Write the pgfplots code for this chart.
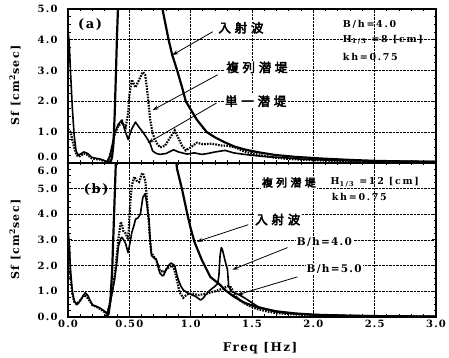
\documentclass[border=0pt]{standalone}
\usepackage{pgfplots}
\pgfplotsset{compat=1.18}
\usepackage{fontspec}
\usetikzlibrary{arrows.meta}
\setmainfont{DejaVu Serif}
\newfontfamily\lbl{DejaVu Serif}[LetterSpace=12]
\newfontfamily\lblw{DejaVu Serif}[LetterSpace=18]
\newfontfamily\cjk{Noto Sans CJK JP}[LetterSpace=30, AutoFakeBold=3.5]
\tikzset{
 arr/.style={-{Stealth[length=6pt,width=4pt]}, line width=0.8pt},
 cj/.style={font=\cjk\bfseries\fontsize{12.5}{14}\selectfont, fill=white, inner sep=1pt},
 cjs/.style={font=\cjk\bfseries\fontsize{11}{13}\selectfont, fill=white, inner sep=1pt},
 tx/.style={font=\lblw\bfseries\fontsize{9.5}{11}\selectfont, anchor=west, inner sep=0pt},
 bh/.style={font=\lbl\bfseries\fontsize{10.5}{12}\selectfont, fill=white, inner sep=1pt},
}
\begin{document}
\begin{tikzpicture}
\path[use as bounding box] (0,0) rectangle (449pt,-358pt);
\pgfplotsset{
 myax/.style={
  scale only axis, width=368pt, anchor=north west,
  xmin=0, xmax=3, xtick={0,0.5,1,1.5,2,2.5,3}, minor x tick num=4,
  minor y tick num=3,
  tick align=inside, xtick pos=both, ytick pos=both,
  major tick length=4pt, minor tick length=2.5pt,
  every tick/.style={black, line width=0.9pt},
  axis line style={line width=1.6pt},
  grid=major, major grid style={densely dotted, black, line width=0.6pt},
  ticklabel style={font=\lbl\bfseries\fontsize{10}{12}\selectfont},
  yticklabel style={xshift=-7pt},
  clip mode=individual,
  ylabel={Sf [cm\textsuperscript{2}sec]},
  ylabel style={at={(axis description cs:-0.144,0.5)}, anchor=center, font=\lbl\bfseries\fontsize{11}{13}\selectfont},
 },
 inc/.style={black, line width=2.2pt, line join=round},
 sol/.style={black, line width=1.6pt, line join=round},
 dot/.style={black, line width=2.2pt, dash pattern=on 1.6pt off 1.2pt},
}
% ---------- top panel ----------
\begin{axis}[myax, at={(68pt,-9pt)}, height=153.7pt,
  ymin=0, ymax=5, ytick={0,1,2,3,4,5},
  yticklabels={,1.0,2.0,3.0,4.0,5.0}, xticklabels={}]
\addplot[inc] coordinates {(0.30,0.02)(0.33,0.03)(0.35,0.05)(0.36,0.2)(0.37,0.6)(0.38,1.5)(0.39,2.8)(0.40,4.2)(0.41,5.3)(0.43,7.5)(0.5,14)(0.6,18)(0.68,10)(0.72,6.8)(0.77,5.0)(0.82,4.0)(0.85,3.5)(0.89,3.0)(0.93,2.45)(0.96,2.0)(1.05,1.4)(1.13,1.0)(1.2,0.82)(1.28,0.66)(1.36,0.52)(1.45,0.42)(1.55,0.34)(1.69,0.25)(1.85,0.19)(2.09,0.13)(2.3,0.09)(2.5,0.06)(2.75,0.04)(3.0,0.03)};
\addplot[sol] coordinates {(0,4.3)(0.01,3.9)(0.02,3.0)(0.035,1.8)(0.05,0.9)(0.065,0.4)(0.08,0.25)(0.10,0.28)(0.13,0.35)(0.16,0.3)(0.19,0.18)(0.22,0.15)(0.26,0.12)(0.29,0.08)(0.32,0.03)(0.34,0.2)(0.36,0.55)(0.38,0.96)(0.41,1.25)(0.44,1.39)(0.46,1.1)(0.49,0.76)(0.52,1.1)(0.55,1.32)(0.58,1.15)(0.61,1.0)(0.64,0.82)(0.67,0.62)(0.69,0.38)(0.72,0.3)(0.75,0.27)(0.80,0.3)(0.86,0.42)(0.9,0.35)(0.97,0.28)(1.03,0.32)(1.09,0.27)(1.14,0.3)(1.2,0.35)(1.28,0.4)(1.35,0.32)(1.42,0.28)(1.48,0.25)(1.6,0.2)(1.69,0.18)(1.8,0.15)(1.89,0.12)(2.0,0.1)(2.2,0.07)(2.5,0.05)(2.8,0.04)(3.0,0.03)};
\addplot[dot] coordinates {(0,1.1)(0.02,1.0)(0.035,0.75)(0.05,0.5)(0.065,0.3)(0.08,0.2)(0.10,0.22)(0.13,0.3)(0.16,0.25)(0.19,0.15)(0.22,0.12)(0.26,0.1)(0.29,0.06)(0.32,0.02)(0.34,0.2)(0.36,0.5)(0.38,0.9)(0.41,1.2)(0.44,1.3)(0.47,1.15)(0.49,1.6)(0.50,2.2)(0.52,2.7)(0.55,2.45)(0.58,2.7)(0.61,2.95)(0.63,2.85)(0.65,2.2)(0.67,1.4)(0.69,0.95)(0.72,0.65)(0.75,0.5)(0.79,0.55)(0.83,0.8)(0.87,1.05)(0.9,0.8)(0.93,0.55)(0.96,0.4)(1.0,0.5)(1.05,0.65)(1.1,0.6)(1.17,0.62)(1.25,0.56)(1.3,0.55)(1.36,0.5)(1.44,0.36)(1.5,0.3)(1.56,0.25)(1.69,0.16)(1.8,0.12)(2.0,0.08)(2.3,0.05)(2.6,0.04)(3.0,0.03)};
\node[anchor=east, inner sep=0.3333em, xshift=-7pt, font=\lbl\bfseries\fontsize{10}{12}\selectfont] at (axis cs:0,0.18) {0.0};
\node[font=\lbl\bfseries\fontsize{13}{15}\selectfont] at (axis cs:0.18,4.48) {(a)};
\node[cj] at (axis cs:1.41,4.39) {入射波};
\node[cj] at (axis cs:1.54,3.1) {複列潜堤};
\node[cj] at (axis cs:1.53,2.0) {単一潜堤};
\draw[arr] (axis cs:1.18,4.26) -- (axis cs:0.85,3.5);
\draw[arr] (axis cs:1.22,2.86) -- (axis cs:0.69,1.71);
\draw[arr] (axis cs:1.21,1.94) -- (axis cs:0.65,0.64);
\node[tx] at (axis cs:2.24,4.49) {B/h=4.0};
\node[tx] at (axis cs:2.24,4.0) {H\textsubscript{1/3} =8 [cm]};
\node[tx] at (axis cs:2.24,3.44) {kh=0.75};
\end{axis}
% ---------- bottom panel ----------
\begin{axis}[myax, at={(68pt,-162.7pt)}, height=154.3pt,
  ymin=0, ymax=6, ytick={0,1,2,3,4,5,6},
  yticklabels={0.0,1.0,2.0,3.0,4.0,5.0,},
  xticklabels={0.0,0.50,1.0,1.5,2.0,2.5,3.0},
  xlabel={Freq [Hz]},
  xlabel style={at={(axis description cs:0.522,-0.2)}, anchor=center, font=\lbl\bfseries\fontsize{12}{14}\selectfont}]
\addplot[inc] coordinates {(0.30,0.02)(0.33,0.1)(0.345,0.6)(0.36,1.8)(0.37,3.2)(0.38,4.6)(0.39,6.0)(0.41,8)(0.5,14)(0.6,18)(0.7,14)(0.8,9)(0.86,6.8)(0.89,5.74)(0.93,4.96)(0.97,4.06)(1.0,3.45)(1.03,2.93)(1.09,2.23)(1.16,1.56)(1.24,1.25)(1.28,1.05)(1.35,0.8)(1.44,0.55)(1.55,0.37)(1.7,0.22)(1.85,0.14)(2.0,0.09)(2.3,0.05)(2.6,0.03)(3.0,0.02)};
\addplot[sol] coordinates {(0,3.4)(0.01,2.9)(0.02,1.84)(0.035,1.0)(0.05,0.65)(0.06,0.55)(0.08,0.5)(0.11,0.72)(0.14,0.94)(0.16,0.85)(0.18,0.65)(0.2,0.47)(0.23,0.42)(0.26,0.35)(0.29,0.25)(0.32,0.14)(0.34,0.5)(0.36,0.95)(0.38,1.45)(0.40,2.2)(0.41,2.73)(0.43,3.05)(0.44,3.1)(0.46,2.95)(0.47,2.85)(0.49,2.5)(0.51,3.0)(0.52,3.28)(0.54,3.6)(0.55,3.8)(0.57,3.85)(0.59,4.0)(0.61,4.65)(0.63,4.8)(0.645,4.3)(0.66,3.8)(0.67,3.0)(0.68,2.4)(0.70,2.3)(0.72,2.25)(0.74,1.85)(0.75,1.7)(0.77,1.6)(0.78,1.62)(0.80,1.84)(0.82,2.0)(0.84,2.1)(0.87,2.0)(0.89,1.6)(0.90,1.44)(0.92,1.2)(0.94,1.05)(0.97,0.95)(1.01,0.86)(1.04,0.8)(1.08,0.66)(1.10,0.72)(1.12,0.85)(1.16,1.05)(1.2,1.2)(1.22,1.3)(1.23,1.6)(1.24,2.4)(1.25,2.7)(1.26,2.6)(1.28,2.2)(1.30,1.84)(1.31,1.2)(1.33,1.0)(1.36,0.94)(1.40,0.85)(1.44,0.74)(1.5,0.55)(1.55,0.4)(1.62,0.3)(1.69,0.2)(1.8,0.14)(2.0,0.09)(2.3,0.05)(2.6,0.03)(3.0,0.02)};
\addplot[dot] coordinates {(0,3.0)(0.01,2.5)(0.02,1.6)(0.035,0.9)(0.05,0.6)(0.07,0.5)(0.1,0.65)(0.13,0.85)(0.15,0.8)(0.18,0.6)(0.2,0.45)(0.23,0.4)(0.26,0.32)(0.29,0.22)(0.32,0.12)(0.34,0.5)(0.36,1.0)(0.38,1.6)(0.40,2.5)(0.41,3.0)(0.43,3.7)(0.44,3.6)(0.45,3.35)(0.47,3.25)(0.49,3.0)(0.50,3.8)(0.51,4.6)(0.52,5.1)(0.54,5.45)(0.56,5.3)(0.58,5.25)(0.60,5.55)(0.61,5.6)(0.63,5.3)(0.645,4.5)(0.66,3.6)(0.67,2.9)(0.68,2.5)(0.70,2.35)(0.72,2.2)(0.75,1.8)(0.78,1.75)(0.81,1.9)(0.85,2.0)(0.87,1.8)(0.89,1.4)(0.91,0.95)(0.94,0.75)(0.97,0.88)(1.01,0.92)(1.06,0.85)(1.12,0.9)(1.2,1.0)(1.26,1.1)(1.3,1.2)(1.33,1.15)(1.36,0.85)(1.40,0.65)(1.45,0.5)(1.5,0.38)(1.55,0.3)(1.62,0.22)(1.7,0.15)(1.85,0.1)(2.0,0.07)(2.3,0.04)(2.6,0.03)(3.0,0.02)};
\node[anchor=east, inner sep=0.3333em, xshift=-7pt, font=\lbl\bfseries\fontsize{10}{12}\selectfont] at (axis cs:0,5.7) {6.0};
\node[font=\lbl\bfseries\fontsize{13}{15}\selectfont] at (axis cs:0.23,4.96) {(b)};
\node[cjs] at (axis cs:1.8,5.23) {複列潜堤};
\node[tx] at (axis cs:2.14,5.23) {H\textsubscript{1/3} =12 [cm]};
\node[tx] at (axis cs:2.15,4.65) {kh=0.75};
\node[cj] at (axis cs:1.71,3.79) {入射波};
\draw[arr] (axis cs:1.47,3.59) -- (axis cs:1.05,2.93);
\node[bh] at (axis cs:2.09,2.93) {B/h=4.0};
\draw[arr] (axis cs:1.79,2.7) -- (axis cs:1.34,1.84);
\node[bh] at (axis cs:2.17,1.88) {B/h=5.0};
\draw[arr] (axis cs:1.87,1.56) -- (axis cs:1.38,0.86);
\end{axis}
\end{tikzpicture}
\end{document}
